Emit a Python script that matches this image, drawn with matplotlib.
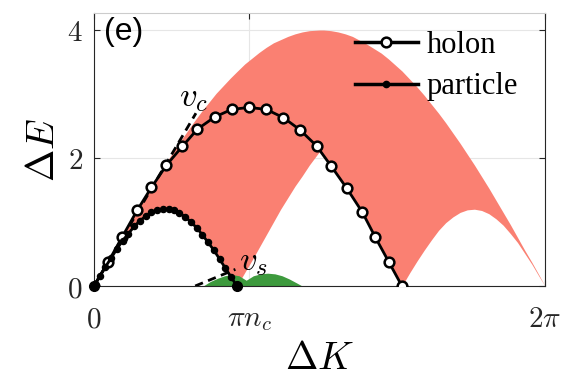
import matplotlib
matplotlib.use("Agg")
import matplotlib.pyplot as plt
from matplotlib.lines import Line2D
import numpy as np

plt.rcParams['mathtext.fontset'] = 'cm'

# ---- data ----
holon_x = [0.00, 0.20, 0.39, 0.60, 0.80, 1.01, 1.23, 1.44, 1.68, 1.92, 2.16,
           2.40, 2.64, 2.87, 3.10, 3.30, 3.52, 3.74, 3.92, 4.11, 4.29]
holon_y = [0.00, 0.38, 0.76, 1.18, 1.54, 1.89, 2.18, 2.45, 2.64, 2.76, 2.79,
           2.76, 2.63, 2.44, 2.19, 1.88, 1.53, 1.15, 0.76, 0.37, 0.00]

particle_x = [0.00, 0.08, 0.16, 0.24, 0.32, 0.40, 0.48, 0.56, 0.64, 0.72, 0.80,
              0.88, 0.96, 1.04, 1.11, 1.19, 1.27, 1.35, 1.43, 1.51, 1.59, 1.67,
              1.75, 1.83, 1.91, 1.99]
particle_y = [0.00, 0.15, 0.30, 0.44, 0.58, 0.71, 0.82, 0.93, 1.02, 1.09, 1.15,
              1.18, 1.20, 1.20, 1.18, 1.14, 1.08, 1.00, 0.91, 0.80, 0.68, 0.56,
              0.42, 0.28, 0.14, 0.00]

cont_x = [0.0, 0.1, 0.2, 0.3, 0.4, 0.5, 0.6, 0.7, 0.8, 0.9, 1.0, 1.1, 1.2, 1.3,
          1.4, 1.5, 1.6, 1.7, 1.8, 1.9, 1.99,
          2.1, 2.2, 2.3, 2.4, 2.5, 2.6, 2.7, 2.8, 2.9, 3.0, 3.14,
          3.2, 3.3, 3.4, 3.5, 3.6, 3.7, 3.8, 3.9, 4.0, 4.1, 4.2, 4.29,
          4.4, 4.5, 4.6, 4.7, 4.8, 4.9, 5.0, 5.1, 5.2, 5.3, 5.4, 5.5, 5.6,
          5.7, 5.8, 5.9, 6.0, 6.1, 6.2, 6.283]
cont_upper = [0, 0.20, 0.40, 0.60, 0.79, 0.99, 1.18, 1.37, 1.56, 1.74, 1.92,
              2.09, 2.26, 2.42, 2.58, 2.73, 2.87, 3.01, 3.13, 3.25, 3.35,
              3.47, 3.56, 3.65, 3.73, 3.80, 3.85, 3.90, 3.94, 3.97, 3.99, 4.00,
              4.00, 3.99, 3.97, 3.94, 3.90, 3.84, 3.78, 3.71, 3.64, 3.55, 3.45,
              3.36,
              3.23, 3.11, 2.98, 2.84, 2.70, 2.55, 2.39, 2.23, 2.06, 1.89, 1.71,
              1.53, 1.34, 1.15, 0.96, 0.76, 0.56, 0.37, 0.17, 0]
cont_lower = [0, 0.19, 0.37, 0.55, 0.71, 0.85, 0.97, 1.07, 1.14, 1.19, 1.20,
              1.18, 1.14, 1.06, 0.96, 0.84, 0.69, 0.53, 0.36, 0.17, 0,
              0.21, 0.40, 0.60, 0.80, 1.00, 1.20, 1.38, 1.56, 1.72, 1.89, 2.10,
              2.03, 1.88, 1.72, 1.56, 1.39, 1.22, 1.02, 0.80, 0.60, 0.39, 0.18,
              0,
              0.21, 0.39, 0.56, 0.72, 0.87, 0.99, 1.08, 1.15, 1.19, 1.20, 1.18,
              1.13, 1.05, 0.95, 0.82, 0.68, 0.51, 0.34, 0.15, 0]

spin_x = [1.52, 1.62, 1.72, 1.82, 1.92, 2.02, 2.12, 2.22, 2.32, 2.42, 2.52,
          2.62, 2.72, 2.82, 2.90]
spin_upper = [0.0, 0.07, 0.12, 0.16, 0.18, 0.16, 0.09, 0.16, 0.19, 0.20, 0.19,
              0.16, 0.11, 0.05, 0.0]

vc_x = [0.0, 1.42]
vc_y = [0.0, 2.70]
vs_x = [1.41, 1.97]
vs_y = [0.0, 0.26]

xtick_pos = [0.0, 2.16, 2 * np.pi]
xtick_lab = [r'$0$', r'$\pi n_c$', r'$2\pi$']
ytick_pos = [0, 2, 4]
ytick_lab = [r'$0$', r'$2$', r'$4$']

# ---- figure ----
fig = plt.figure(figsize=(5.66, 3.82), dpi=100)
ax = fig.add_axes([94/566, 1-286/382, 451/566, 273/382])
ax.set_xlim(0, 2*np.pi)
ax.set_ylim(0, 4.266)

ax.fill_between(cont_x, cont_lower, cont_upper, color='#fa8072', lw=0, zorder=1)
ax.fill_between(spin_x, 0, spin_upper, color='#3d9a3d', lw=0, zorder=2)

ax.plot(vc_x, vc_y, color='k', lw=2, ls=(0, (3, 2)), zorder=3)
ax.plot(vs_x, vs_y, color='k', lw=2, ls=(0, (3, 2)), zorder=3)

ax.plot(holon_x, holon_y, color='k', lw=2.0, marker='o', ms=7,
        mfc='white', mec='k', mew=1.8, zorder=4)
ax.plot(particle_x, particle_y, color='k', lw=2.0, marker='o', ms=4.4,
        mfc='k', mec='k', zorder=5)
ax.plot([particle_x[0], particle_x[-1]], [particle_y[0], particle_y[-1]],
        ls='none', marker='o', ms=7, color='k', zorder=6, clip_on=False)

ax.text(1.18, 2.81, r'$v_c$', fontsize=25, zorder=7)
ax.text(2.02, 0.25, r'$v_s$', fontsize=25, zorder=7)

ax.set_xticks(xtick_pos)
ax.set_xticklabels(xtick_lab)
ax.set_yticks(ytick_pos)
ax.set_yticklabels(ytick_lab)
ax.tick_params(direction='in', length=4, width=0.8, colors='#262626',
               labelsize=21, top=True, right=True)
ax.tick_params(axis='x', pad=14)
ax.tick_params(axis='y', pad=8)
ax.grid(True, color='#e6e6e6', lw=0.8, zorder=0)
ax.set_axisbelow(True)
for s in ['left', 'bottom', 'right']:
    ax.spines[s].set_color('#262626')
    ax.spines[s].set_linewidth(0.8)
ax.spines['top'].set_color('#cccccc')
ax.spines['top'].set_linewidth(0.8)

ax.set_xlabel(r'$\Delta K$', fontsize=28, labelpad=4)
ax.set_ylabel(r'$\Delta E$', fontsize=28, labelpad=4)

ax.text(0.022, 0.985, '(e)', transform=ax.transAxes, fontsize=23,
        family='Liberation Sans', va='top', ha='left', zorder=8)

handles = [
    Line2D([], [], color='k', lw=2.5, marker='o', ms=7, mfc='white',
           mec='k', mew=1.8),
    Line2D([], [], color='k', lw=2.5, marker='o', ms=4.5, mfc='k', mec='k'),
]
leg = ax.legend(handles, ['holon', 'particle'], loc='upper left',
                bbox_to_anchor=((355-94)/451, (286-31)/273), frameon=False,
                borderpad=0, borderaxespad=0, handlelength=2.05,
                handletextpad=0.3, labelspacing=0.4,
                prop={'family': 'Liberation Serif', 'size': 22})

fig.savefig("out.png", dpi=100)
